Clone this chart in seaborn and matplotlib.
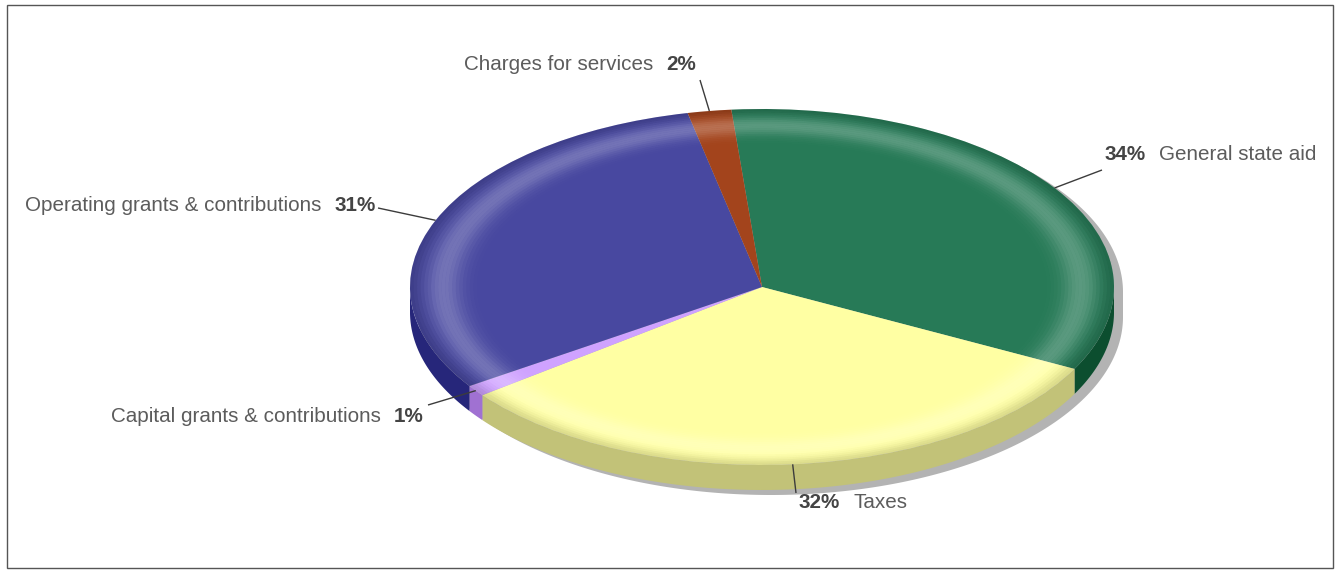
import numpy as np
import matplotlib
matplotlib.use("Agg")
import matplotlib.pyplot as plt
import seaborn as sns
from matplotlib.patches import Polygon, Rectangle, Wedge
from matplotlib.offsetbox import TextArea, HPacker, AnnotationBbox

# ---- data ----
categories = ["General state aid", "Taxes", "Capital grants & contributions",
              "Operating grants & contributions", "Charges for services"]
shares = [34, 32, 1, 31, 2]
pct_labels = ["34%", "32%", "1%", "31%", "2%"]
top_colors = ["#277A57", "#FFFFA3", "#CFA2FF", "#4848A0", "#A3441C"]
side_colors = ["#0C4E2F", "#C2C278", "#A071D2", "#26267A", "#6E2A0E"]

sns.set_theme(style="white")
plt.rcParams["font.family"] = ["Liberation Sans", "DejaVu Sans"]

W, H = 1340, 570
fig = plt.figure(figsize=(W / 100, H / 100), dpi=100)
ax = fig.add_axes([0, 0, 1, 1])

# layout (pixels)
CX, CY, RX, RY, DEPTH = 762, 287, 352, 178, 25


def px(x, y):
    return ((x - CX) / RX, (CY - y) / RY)


d = DEPTH / RY

wedges, _ = ax.pie(shares, colors=top_colors, startangle=95, counterclock=False,
                   radius=1, center=(0, 0),
                   wedgeprops=dict(linewidth=0, zorder=3))
ax.set_aspect("auto")
ax.set_xlim(px(0, 0)[0], px(W, 0)[0])
ax.set_ylim(px(0, H)[1], px(0, 0)[1])
ax.axis("off")

# shadow
a_top = np.radians(np.linspace(0, 180, 200))
a_bot = np.radians(np.linspace(180, 360, 200))
sil = np.concatenate([np.column_stack([np.cos(a_top), np.sin(a_top)]),
                      np.column_stack([np.cos(a_bot), np.sin(a_bot) - d])])
ax.add_patch(Polygon(sil + np.array([9 / RX, -5 / RY]), closed=True,
                     facecolor="#b3b3b3", edgecolor="none", zorder=1))


def front_intervals(t1, t2):
    out = []
    for k in (-1, 0, 1):
        lo, hi = max(t1, -180 + 360 * k), min(t2, 360 * k)
        if hi > lo:
            out.append((lo, hi))
    return out


# side walls
for w, sc in zip(wedges, side_colors):
    for lo, hi in front_intervals(w.theta1, w.theta2):
        a = np.radians(np.linspace(lo, hi, 120))
        xs, ys = np.cos(a), np.sin(a)
        pts = np.concatenate([np.column_stack([xs, ys]),
                              np.column_stack([xs[::-1], ys[::-1] - d])])
        ax.add_patch(Polygon(pts, closed=True, facecolor=sc,
                             edgecolor="none", zorder=2))

# bevel highlight ring on top face
radii = np.linspace(0.70, 1.0, 31)
for r0, r1 in zip(radii[:-1], radii[1:]):
    rm = (r0 + r1) / 2
    alpha = 0.24 * np.exp(-((rm - 0.905) / 0.05) ** 2)
    if alpha > 0.005:
        ax.add_patch(Wedge((0, 0), r1, 0, 360, width=r1 - r0,
                           facecolor="white", edgecolor="none",
                           alpha=alpha, zorder=4))
    dark = 0.14 * np.exp(-((rm - 1.0) / 0.035) ** 2)
    if dark > 0.005:
        ax.add_patch(Wedge((0, 0), r1, 0, 360, width=r1 - r0,
                           facecolor="black", edgecolor="none",
                           alpha=dark, zorder=4))

# labels: leader end (px), text anchor (px), alignment, pct first?
label_layout = [
    ((1102, 170), (1105, 154), 0, True),
    ((796, 493), (799, 502), 0, True),
    ((428, 405), (424, 416), 1, False),
    ((378, 208), (376, 205), 1, False),
    ((700, 80), (696, 64), 1, False),
]

name_style = dict(color="#5c5c5c", fontsize=14.9)
pct_style = dict(color="#444444", fontsize=14.9, fontweight="bold")

for w, name, pct, (lend, tpos, halign, pct_first) in zip(
        wedges, categories, pct_labels, label_layout):
    mid = np.radians((w.theta1 + w.theta2) / 2)
    x0, y0 = np.cos(mid), np.sin(mid)
    x1, y1 = px(*lend)
    ax.plot([x0, x1], [y0, y1], color="#3c3c3c", lw=1.0, zorder=6,
            solid_capstyle="butt")
    t_name = TextArea(name, textprops=name_style)
    t_pct = TextArea(pct, textprops=pct_style)
    kids = [t_pct, t_name] if pct_first else [t_name, t_pct]
    box = HPacker(children=kids, align="baseline", pad=0, sep=9.5)
    ab = AnnotationBbox(box, px(*tpos), xycoords="data",
                        box_alignment=(halign, 0.5), frameon=False, pad=0,
                        zorder=7)
    ax.add_artist(ab)

# border
fig.add_artist(Rectangle((7 / W, 1 - 568 / H), (1333 - 7) / W, (568 - 5) / H,
                         transform=fig.transFigure, fill=False,
                         edgecolor="#555555", lw=1.0))

fig.savefig("out.png", dpi=100)
